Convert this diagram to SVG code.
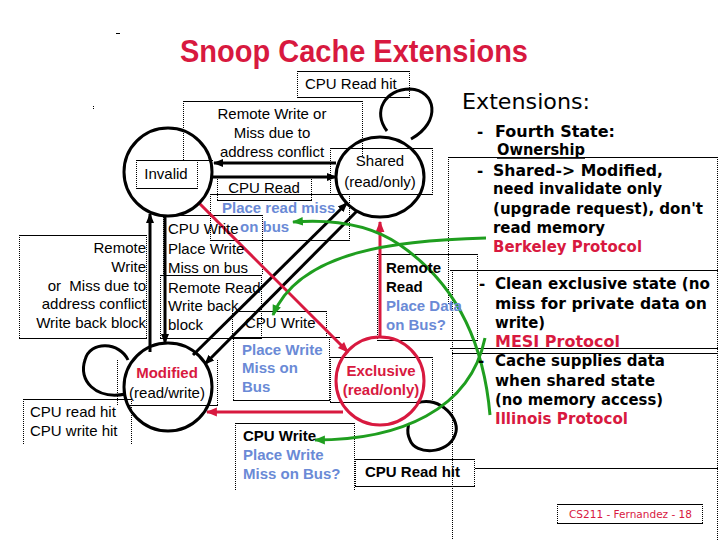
<svg xmlns="http://www.w3.org/2000/svg" width="720" height="540" viewBox="0 0 720 540">
<style>
.h{stroke:#000;stroke-width:1;fill:none}
.v{stroke:#000;stroke-width:1;stroke-dasharray:1 1;fill:none}
.t{font-family:"Liberation Sans",Arial,sans-serif;font-size:15px;fill:#000}
.b{font-weight:bold}
.st{fill:none;stroke:#000;stroke-width:3}
.rs{fill:none;stroke:#d8193f;stroke-width:3}
.gs{fill:none;stroke:#1f9e1f;stroke-width:3}
.ext{font-family:"DejaVu Sans","Liberation Sans",sans-serif;font-weight:bold;font-size:15px;fill:#000}
text.blue{fill:#6a8ad6}
text.red{fill:#d8193f}
</style>
<defs>
<marker id="ak" markerUnits="userSpaceOnUse" viewBox="0 0 10 10" markerWidth="10" markerHeight="10" refX="9" refY="5" orient="auto"><path d="M0,1 L10,5 L0,9 z" fill="#000"/></marker>
<marker id="ar" markerUnits="userSpaceOnUse" viewBox="0 0 10 10" markerWidth="11" markerHeight="11" refX="9" refY="5" orient="auto"><path d="M0,1 L10,5 L0,9 z" fill="#d8193f"/></marker>
<marker id="ag" markerUnits="userSpaceOnUse" viewBox="0 0 10 10" markerWidth="11" markerHeight="11" refX="9" refY="5" orient="auto"><path d="M0,1 L10,5 L0,9 z" fill="#1f9e1f"/></marker>
</defs>
<rect width="720" height="540" fill="#fff"/>

<!-- stray marks -->
<line x1="116" y1="33.5" x2="120" y2="33.5" class="h"/>
<line x1="93.5" y1="106" x2="93.5" y2="110" class="v"/>

<!-- title -->
<text x="180" y="62" font-family="'Liberation Sans',Arial,sans-serif" font-weight="bold" font-size="31" fill="#d8193f" textLength="348" lengthAdjust="spacingAndGlyphs">Snoop Cache Extensions</text>

<!-- label boxes -->
<g id="boxes">
<path class="h" d="M297 71.5H410M297 97.5H410"/><path class="v" d="M297.5 71V97M409.5 71V97"/>
<path class="h" d="M183 101.5H363"/><path class="v" d="M183.5 101V160M362.5 101V157"/>
<path class="h" d="M136 160.5H213M136 188.5H198"/><path class="v" d="M136.5 160V188M197.5 160V188"/>
<path class="h" d="M330 148.5H433M210 194.5H433"/><path class="v" d="M330.5 148V194M432.5 148V194"/>
<path class="h" d="M217 200.5H312"/><path class="v" d="M217.5 177V200M311.5 177V200"/>
<path class="h" d="M210 240.5H350"/><path class="v" d="M210.5 196V240M349.5 196V240"/>
<path class="h" d="M163 215.5H263M160 275.5H262"/><path class="v" d="M163.5 215V275M262.5 215V275"/>
<path class="h" d="M160 338.5H262"/><path class="v" d="M160.5 275V338M261.5 275V338"/>
<path class="h" d="M19 235.5H147M19 338.5H147"/><path class="v" d="M19.5 235V338M146.5 235V338"/>
<path class="h" d="M128 405.5H218"/><path class="v" d="M117.5 360V405M217.5 360V405"/>
<path class="h" d="M23 399.5H132"/><path class="v" d="M23.5 399V445M131.5 399V445"/>
<path class="h" d="M238 311.5H327M232 337.5H340"/><path class="v" d="M232.5 311V337M326.5 311V337"/>
<path class="h" d="M233 400.5H330"/><path class="v" d="M233.5 337V400M329.5 337V400"/>
<path class="h" d="M330 357.5H433M330 402.5H433"/><path class="v" d="M330.5 357V402M432.5 357V402"/>
<path class="h" d="M377 254.5H478M377 340.5H478"/><path class="v" d="M377.5 254V340M477.5 254V340"/>
<path class="h" d="M235 423.5H355"/><path class="v" d="M235.5 423V490M354.5 423V490"/>
<path class="h" d="M355 459.5H475M355 486.5H475M475 468.5H718"/><path class="v" d="M355.5 459V486M474.5 459V486"/>
<path class="h" d="M448 157.5H718M450 270.5H718M450 348.5H718M452 353.5H718"/>
<path class="v" d="M448.5 157V305M452.5 270V540M717.5 157V540"/>
<path class="h" d="M557 504.5H703M557 523.5H703"/><path class="v" d="M557.5 504V523M702.5 504V523"/>
</g>

<!-- connectors -->
<g id="connectors">
<line x1="336" y1="163" x2="214" y2="163" class="st" marker-end="url(#ak)"/>
<line x1="212" y1="177" x2="336" y2="177" class="st" marker-end="url(#ak)"/>
<line x1="150" y1="352" x2="150" y2="214" class="st" marker-end="url(#ak)"/>
<line x1="165" y1="216" x2="165" y2="343" class="st" marker-end="url(#ak)"/>
<line x1="193" y1="355" x2="347" y2="203" class="st" marker-end="url(#ak)"/>
<line x1="357" y1="211" x2="205" y2="364" class="st" marker-end="url(#ak)"/>
<line x1="198" y1="202" x2="348" y2="352" class="rs" marker-end="url(#ar)"/>
<line x1="343" y1="412" x2="207" y2="412" class="rs" marker-end="url(#ar)"/>
<line x1="380" y1="338" x2="380" y2="222" class="rs" marker-end="url(#ar)"/>
<path d="M387 131 C372 112 385 89 410 89 C436 90 442 122 411 139" class="st"/>
<path d="M128 360 C120 342 90 340 85 360 C78 380 95 400 126 394" class="st"/>
<path d="M417 403 C440 395 462 420 455 435 C448 455 415 455 410 440 C405 430 410 425 408 424" class="st"/>
<path d="M486 238 C400 240 300 250 273 315" class="gs" marker-end="url(#ag)"/>
<path d="M490 415 Q480 300 400 245 Q360 217 293 222" class="gs" marker-end="url(#ag)"/>
<path d="M485 338 C470 410 400 440 315 440" class="gs" marker-end="url(#ag)"/>
</g>

<!-- state nodes -->
<g id="invalid">
<circle cx="168" cy="172" r="44" fill="none" stroke="#000" stroke-width="3"/>
<text x="166" y="179" class="t" text-anchor="middle">Invalid</text>
</g>
<g id="shared">
<ellipse cx="380" cy="177" rx="44" ry="40" fill="none" stroke="#000" stroke-width="3"/>
<text x="380" y="166" class="t" text-anchor="middle">Shared</text>
<text x="380" y="187" class="t" text-anchor="middle">(read/only)</text>
</g>
<g id="modified">
<circle cx="168" cy="387" r="44" fill="none" stroke="#000" stroke-width="3"/>
<text x="167" y="378" class="t b red" font-size="16" text-anchor="middle">Modified</text>
<text x="167" y="398" class="t" text-anchor="middle">(read/write)</text>
</g>
<g id="exclusive">
<circle cx="380" cy="381" r="44" fill="none" stroke="#d8193f" stroke-width="3"/>
<text x="381" y="376" class="t b red" text-anchor="middle" font-size="15.5">Exclusive</text>
<text x="381" y="395" class="t b red" text-anchor="middle" font-size="15.5">(read/only)</text>
</g>

<!-- labels -->
<g id="labels">
<text x="305" y="89" class="t">CPU Read hit</text>
<text x="272" y="119" class="t" text-anchor="middle">Remote Write or</text>
<text x="272" y="138" class="t" text-anchor="middle">Miss due to</text>
<text x="272" y="157" class="t" text-anchor="middle">address conflict</text>
<text x="264" y="193" class="t" text-anchor="middle">CPU Read</text>
<text x="222" y="213" class="t b blue">Place read miss</text>
<text x="240" y="232" class="t b blue">on bus</text>
<text x="168" y="234" class="t">CPU Write</text>
<text x="168" y="254" class="t">Place Write</text>
<text x="168" y="273" class="t">Miss on bus</text>
<text x="168" y="293" class="t">Remote Read</text>
<text x="168" y="311" class="t">Write back</text>
<text x="168" y="330" class="t">block</text>
<text x="146" y="253" class="t" text-anchor="end">Remote</text>
<text x="146" y="272" class="t" text-anchor="end">Write</text>
<text x="146" y="291" class="t" text-anchor="end" xml:space="preserve">or  Miss due to</text>
<text x="146" y="309" class="t" text-anchor="end">address conflict</text>
<text x="146" y="328" class="t" text-anchor="end">Write back block</text>
<text x="30" y="417" class="t">CPU read hit</text>
<text x="30" y="436" class="t">CPU write hit</text>
<text x="245" y="328" class="t">CPU Write</text>
<text x="242" y="355" class="t b blue">Place Write</text>
<text x="242" y="373" class="t b blue">Miss on</text>
<text x="242" y="392" class="t b blue">Bus</text>
<text x="386" y="273" class="t b">Remote</text>
<text x="386" y="292" class="t b">Read</text>
<text x="386" y="311" class="t b blue">Place Data</text>
<text x="386" y="330" class="t b blue">on Bus?</text>
<text x="243" y="441" class="t b">CPU Write</text>
<text x="243" y="460" class="t b blue">Place Write</text>
<text x="243" y="479" class="t b blue">Miss on Bus?</text>
<text x="365" y="477" class="t b">CPU Read hit</text>
</g>

<!-- right panel -->
<g id="extensions">
<text x="462" y="109" font-family="'DejaVu Sans','Liberation Sans',sans-serif" font-size="21" fill="#000" textLength="128" lengthAdjust="spacingAndGlyphs">Extensions:</text>
<text x="477" y="137" class="ext">-</text>
<text x="495" y="137" class="ext" textLength="120" lengthAdjust="spacingAndGlyphs">Fourth State:</text>
<text x="497" y="155" class="ext" textLength="88" lengthAdjust="spacingAndGlyphs">Ownership</text>
<line x1="497" y1="158" x2="585" y2="158" stroke="#000" stroke-width="1.5"/>
<text x="477" y="176" class="ext">-</text>
<text x="493" y="176" class="ext" textLength="170" lengthAdjust="spacingAndGlyphs">Shared-&gt; Modified,</text>
<text x="493" y="194" class="ext" textLength="169" lengthAdjust="spacingAndGlyphs">need invalidate only</text>
<text x="493" y="214" class="ext" textLength="210" lengthAdjust="spacingAndGlyphs">(upgrade request), don't</text>
<text x="493" y="233" class="ext" textLength="112" lengthAdjust="spacingAndGlyphs">read memory</text>
<text x="493" y="252" class="ext red" textLength="149" lengthAdjust="spacingAndGlyphs">Berkeley Protocol</text>
<text x="479" y="289" class="ext">-</text>
<text x="495" y="289" class="ext" textLength="215" lengthAdjust="spacingAndGlyphs">Clean exclusive state (no</text>
<text x="495" y="309" class="ext" textLength="212" lengthAdjust="spacingAndGlyphs">miss for private data on</text>
<text x="495" y="328" class="ext" textLength="50" lengthAdjust="spacingAndGlyphs">write)</text>
<text x="495" y="347" class="ext red" textLength="125" lengthAdjust="spacingAndGlyphs">MESI Protocol</text>
<text x="478" y="366" class="ext">-</text>
<text x="495" y="366" class="ext" textLength="170" lengthAdjust="spacingAndGlyphs">Cache supplies data</text>
<text x="495" y="386" class="ext" textLength="160" lengthAdjust="spacingAndGlyphs">when shared state</text>
<text x="495" y="405" class="ext" textLength="168" lengthAdjust="spacingAndGlyphs">(no memory access)</text>
<text x="495" y="424" class="ext red" textLength="133" lengthAdjust="spacingAndGlyphs">Illinois Protocol</text>
</g>

<g id="footer">
<text x="569" y="518" font-family="'DejaVu Sans','Liberation Sans',sans-serif" font-size="11" fill="#d8193f" textLength="123" lengthAdjust="spacingAndGlyphs">CS211 - Fernandez - 18</text>
</g>
</svg>
